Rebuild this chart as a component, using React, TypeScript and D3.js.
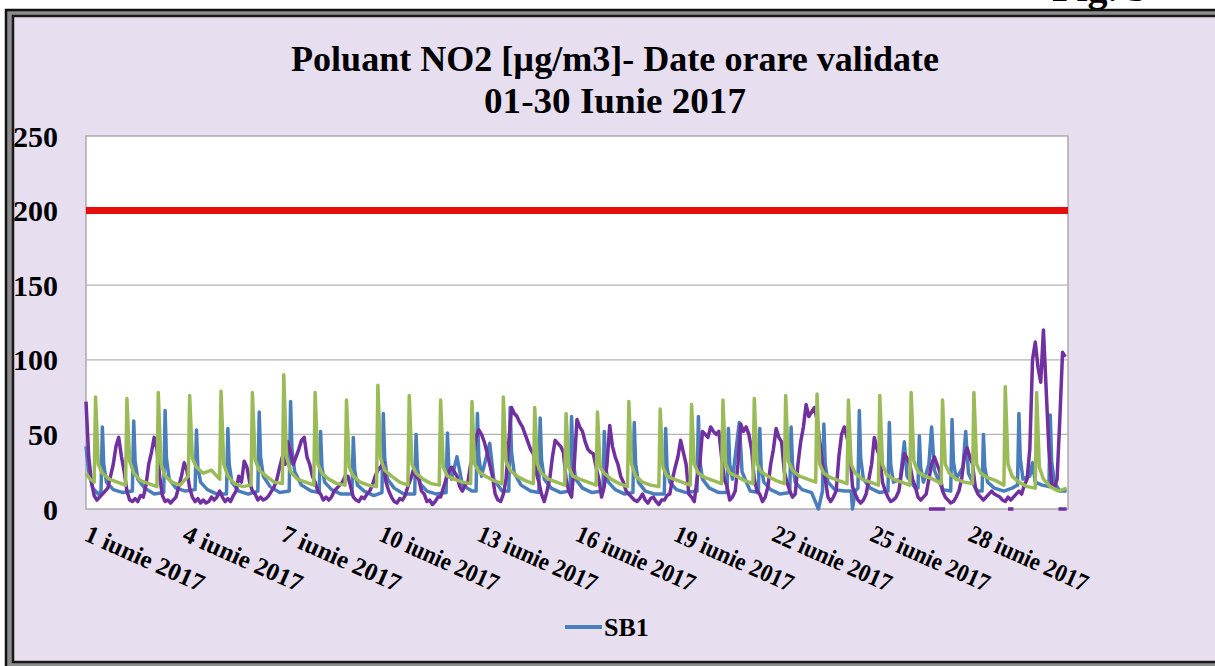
import React, { useEffect } from 'react';
import * as d3 from 'd3';

// chart values (hour index from 1 June 00:00, concentration µg/m3)
const yTicks = [0, 50, 100, 150, 200, 250];
const labelDays = [1, 4, 7, 10, 13, 16, 19, 22, 25, 28];
const limitValue = 200;
const titleLines = ['Poluant NO2 [µg/m3]- Date orare validate', '01-30 Iunie 2017'];
const legendLabel = 'SB1';

// SB1 (blue), [hour, value]
const sb1: [number, number][] = [
  [0,42],[2,25],[5,14],[9,10],
  [11,12],[12,55],[13,30],[15,18],[20,13],[27,11],
  [34,12],[35,59],[36,32],[38,20],[43,14],[50,10],
  [57,11],[58,66],[59,34],[61,20],[66,14],[73,12],
  [80,13],[81,53],[82,28],[84,18],[89,13],[96,10],
  [103,10],[104,54],[105,30],[107,18],[112,12],[119,10],
  [126,12],[127,65],[128,35],[130,22],[135,15],[142,11],
  [149,12],[150,72],[151,40],[153,25],[158,16],[165,12],
  [171,11],[172,52],[173,28],[175,18],[180,13],[187,10],
  [195,10],[196,48],[197,26],[199,16],[204,12],[211,9],
  [217,11],[218,64],[219,34],[221,20],[226,14],[233,10],
  [241,10],[242,50],[243,27],[245,17],[250,12],[257,10],
  [264,11],[265,51],[266,28],[268,20],[272,35],[276,16],[283,12],
  [286,12],[287,64],[288,35],[290,22],[296,44],[299,20],[305,12],
  [310,12],[311,68],[312,38],[314,24],[319,16],[326,12],
  [332,11],[333,61],[334,33],[336,20],[341,14],[348,11],
  [355,12],[356,62],[357,34],[359,20],[364,14],[371,11],
  [379,12],[380,52],[381,28],[383,18],[388,13],[395,10],
  [401,11],[402,58],[403,30],[405,18],[410,12],[417,10],
  [424,10],[425,54],[426,28],[428,18],[433,13],[440,11],
  [448,12],[449,62],[450,33],[452,20],[457,14],[464,11],
  [470,11],[471,54],[472,30],[474,20],[479,58],[481,25],[487,12],
  [493,11],[494,54],[495,28],[497,18],[502,13],[509,10],
  [516,11],[517,55],[518,30],[520,18],[525,13],[532,11],
  [537,0],[540,12],[541,57],[542,30],[544,18],[549,13],[556,12],
  [561,12],[562,0],[564,12],[566,14],[567,66],[568,34],[570,20],[575,14],[582,11],
  [588,12],[589,58],[590,30],[592,18],[597,20],[600,45],[602,22],[608,14],
  [610,14],[611,49],[612,28],[614,18],[618,30],[620,55],[622,26],[628,13],
  [634,12],[635,60],[636,32],[638,20],[643,28],[645,52],[647,24],[653,12],
  [657,12],[658,50],[659,28],[661,18],[666,14],[673,12],
  [679,14],[683,16],[684,64],[685,34],[687,20],[692,22],[694,31],[696,18],[701,16],
  [706,15],[707,63],[708,32],[710,18],[714,12],[719,12],
];

// second station (purple), one reading every 2 hours, one row per day
const sb2Step = 2;
const sb2: number[] = [
  72,35,18,9,6,8,10,12,14,22,30,42,
  48,35,25,12,6,5,7,5,9,8,16,30,
  38,48,40,22,9,5,6,4,6,8,15,22,
  31,26,14,8,5,7,4,6,4,5,8,6,
  8,12,8,5,7,5,9,12,22,18,32,28,
  18,12,10,6,8,6,7,9,12,15,20,28,
  35,30,45,38,30,35,40,46,48,35,30,22,
  18,12,10,6,8,6,8,12,14,16,18,22,
  22,15,8,6,5,8,7,10,12,16,22,26,
  28,31,18,12,8,5,4,7,6,9,15,20,
  26,22,20,12,10,5,6,3,5,8,8,14,
  20,25,28,25,22,15,12,16,18,30,35,48,
  53,50,45,38,30,22,10,6,5,10,20,45,
  68,64,62,58,55,50,45,40,37,25,18,10,
  5,12,20,35,46,44,42,38,20,12,8,30,
  60,55,52,45,40,38,37,28,20,8,15,30,
  56,42,35,30,22,18,12,10,8,6,5,7,
  10,6,4,7,8,5,3,6,6,9,10,20,
  28,35,46,38,30,10,8,5,20,30,52,50,
  48,55,52,50,52,35,20,15,6,8,12,30,
  57,52,55,50,40,20,12,10,5,8,15,30,
  40,54,48,45,25,18,12,8,10,30,45,55,
  70,62,65,68,60,45,30,20,8,5,8,12,
  35,50,55,48,40,15,10,6,4,6,10,20,
  30,48,40,35,18,12,8,5,6,8,12,25,
  37,34,30,20,15,8,6,8,10,20,30,35,
  30,25,12,8,6,4,5,8,12,20,35,41,
  35,30,15,10,8,6,8,10,12,10,9,8,
  6,5,8,6,8,10,12,10,16,20,40,100,
  112,95,85,120,80,40,17,14,20,60,105,102,
];

// third station (green), [hour, value]
const sb3: [number, number][] = [
  [0,24],[3,20],[6,18],
  [7,75],[9,30],[12,24],[17,20],[23,18],[29,16],
  [30,74],[32,32],[35,24],[40,19],[46,17],[52,15],
  [53,78],[55,30],[58,22],[63,18],[69,16],[75,22],
  [76,76],[78,34],[81,28],[86,24],[92,26],[98,20],
  [99,79],[101,30],[104,22],[109,17],[115,15],[121,16],
  [122,78],[124,33],[127,26],[132,22],[138,18],[144,17],
  [145,90],[147,35],[150,25],[155,20],[161,18],[167,16],
  [168,78],[170,30],[173,24],[178,20],[184,17],[190,16],
  [191,73],[193,28],[196,22],[201,18],[207,16],[213,15],
  [214,83],[216,34],[219,26],[224,22],[230,18],[236,16],
  [237,76],[239,30],[242,24],[247,20],[253,17],[259,16],
  [260,73],[262,28],[265,22],[270,20],[276,18],[282,17],
  [283,72],[285,30],[288,25],[293,22],[299,19],[305,17],
  [306,75],[308,32],[311,26],[316,22],[322,19],[328,17],
  [329,68],[331,30],[334,24],[339,20],[345,18],[351,16],
  [352,64],[354,28],[357,22],[362,20],[368,18],[374,16],
  [375,65],[377,28],[380,24],[385,20],[391,17],[397,15],
  [398,72],[400,30],[403,22],[408,18],[414,16],[420,15],
  [421,67],[423,28],[426,22],[431,20],[437,18],[443,16],
  [444,70],[446,30],[449,24],[454,21],[460,19],[466,17],
  [467,73],[469,30],[472,24],[477,22],[483,19],[489,17],
  [490,74],[492,30],[495,25],[500,22],[506,19],[512,17],
  [513,76],[515,32],[518,26],[523,22],[529,20],[535,18],
  [536,77],[538,30],[541,24],[546,21],[552,19],[558,17],
  [559,73],[561,30],[564,24],[569,20],[575,18],[581,16],
  [582,76],[584,30],[587,23],[592,20],[598,18],[604,16],
  [605,78],[607,32],[610,25],[615,22],[621,20],[627,17],
  [628,73],[630,30],[633,24],[638,20],[644,18],[650,17],
  [651,78],[653,30],[656,24],[661,21],[667,19],[673,16],
  [674,82],[676,30],[679,22],[684,18],[690,15],[696,14],
  [697,78],[699,28],[702,20],[707,15],[713,12],[719,14],
];

// short runs of zero readings
const zeroRuns: [number, number][][] = [
  [[618,0],[630,0]],
  [[676,0],[680,0]],
  [[713,0],[719,0]],
];

const font = '"Liberation Serif", "Times New Roman", serif';

export default function App() {
  const W = 1215, H = 666;
  const plot = { left: 86, right: 1068, top: 136, bottom: 509 };

  useEffect(() => {
    document.body.style.margin = '0';
    document.body.style.overflow = 'hidden';
  }, []);

  const x = d3.scaleLinear().domain([0, 720]).range([plot.left, plot.right]);
  const y = d3.scaleLinear().domain([0, 250]).range([plot.bottom, plot.top]);

  const line = d3.line<[number, number]>().x(d => x(d[0])).y(d => y(d[1]));
  const sb2Points: [number, number][] = sb2.map((v, i) => [i * sb2Step, v]);

  const series = [
    { data: sb1, color: '#4a7ebb' },
    { data: sb2Points, color: '#7030a0' },
    { data: sb3, color: '#9bbb59' },
  ];

  return (
    <svg width={W} height={H} style={{ position: 'absolute', left: 0, top: 0, background: '#fff', display: 'block' }}
      fontFamily={font}>
      {/* caption of the page, mostly above the visible area */}
      <text x={1052} y={0.5} fontSize={40} fontWeight="bold">Fig. 5</text>

      {/* double frame */}
      <rect x={6} y={10} width={1300} height={660} fill="#8c8c8c" stroke="#111" strokeWidth={2.5} />
      <rect x={13} y={16} width={1290} height={646} fill="#e7dff0" stroke="#1a1a1a" strokeWidth={2.5} />

      {titleLines.map((t, i) => (
        <text key={t} x={615} y={71 + i * 42} textAnchor="middle" fontSize={36} fontWeight="bold"
          textLength={i === 0 ? 648 : 262} lengthAdjust="spacingAndGlyphs">{t}</text>
      ))}

      <rect x={plot.left} y={plot.top} width={plot.right - plot.left} height={plot.bottom - plot.top}
        fill="#fff" stroke="#9a9a9a" strokeWidth={1.2} />

      {yTicks.filter(v => v > 0 && v < 250).map(v => (
        <line key={v} x1={plot.left} x2={plot.right} y1={y(v)} y2={y(v)} stroke="#b4b4b4" strokeWidth={1.2} />
      ))}

      {yTicks.map(v => (
        <text key={v} x={58} y={y(v)} dy="0.35em" textAnchor="end" fontSize={30} fontWeight="bold">{v}</text>
      ))}

      <line x1={plot.left} x2={plot.right} y1={y(limitValue)} y2={y(limitValue)} stroke="#e60d0d" strokeWidth={7} />

      {series.map(s => (
        <path key={s.color} d={line(s.data) ?? ''} fill="none" stroke={s.color} strokeWidth={3.5}
          strokeLinejoin="round" />
      ))}
      {zeroRuns.map((r, i) => (
        <path key={i} d={line(r) ?? ''} fill="none" stroke="#7030a0" strokeWidth={3.5} />
      ))}

      {labelDays.map(d => {
        const tx = x((d - 1) * 24);
        return (
          <text key={d} transform={`translate(${tx - 3},540) rotate(24)`} fontSize={25} fontWeight="bold"
            textLength={128} lengthAdjust="spacingAndGlyphs">
            {`${d} iunie 2017`}
          </text>
        );
      })}

      <line x1={565} x2={602} y1={627} y2={627} stroke="#4a7ebb" strokeWidth={4} />
      <text x={604} y={636} fontSize={26} fontWeight="bold">{legendLabel}</text>
    </svg>
  );
}
